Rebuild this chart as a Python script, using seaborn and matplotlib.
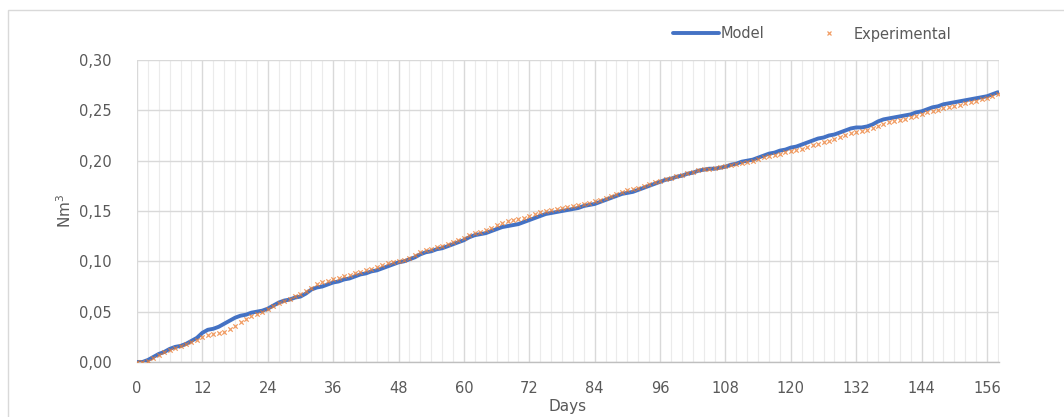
import numpy as np
import pandas as pd
import matplotlib
matplotlib.use("Agg")
import matplotlib.pyplot as plt
from matplotlib.lines import Line2D
from matplotlib.patches import Rectangle
from matplotlib.ticker import MultipleLocator, FuncFormatter
import seaborn as sns

# Values (Nm3 per day, days 0..158)
days = list(range(0, 159))

model = [
    0.000, 0.000, 0.002, 0.005, 0.008, 0.010, 0.013, 0.015, 0.016, 0.018,
    0.021, 0.024, 0.029, 0.032, 0.033, 0.035, 0.038, 0.041, 0.044, 0.046,
    0.047, 0.049, 0.050, 0.051, 0.053, 0.056, 0.059, 0.061, 0.062, 0.064,
    0.065, 0.068, 0.072, 0.074, 0.075, 0.077, 0.079, 0.080, 0.082, 0.083,
    0.085, 0.087, 0.088, 0.090, 0.091, 0.093, 0.095, 0.097, 0.099, 0.100,
    0.102, 0.104, 0.107, 0.109, 0.110, 0.112, 0.113, 0.115, 0.117, 0.119,
    0.121, 0.124, 0.126, 0.127, 0.128, 0.130, 0.132, 0.134, 0.135, 0.136,
    0.137, 0.139, 0.141, 0.143, 0.145, 0.147, 0.148, 0.149, 0.150, 0.151,
    0.152, 0.153, 0.155, 0.156, 0.157, 0.159, 0.161, 0.163, 0.165, 0.167,
    0.168, 0.169, 0.171, 0.173, 0.175, 0.177, 0.179, 0.181, 0.182, 0.184,
    0.185, 0.187, 0.188, 0.190, 0.191, 0.192, 0.192, 0.193, 0.194, 0.196,
    0.197, 0.199, 0.200, 0.201, 0.203, 0.205, 0.207, 0.208, 0.210, 0.211,
    0.213, 0.214, 0.216, 0.218, 0.220, 0.222, 0.223, 0.225, 0.226, 0.228,
    0.230, 0.232, 0.233, 0.233, 0.234, 0.236, 0.239, 0.241, 0.242, 0.243,
    0.244, 0.245, 0.246, 0.248, 0.249, 0.251, 0.253, 0.254, 0.256, 0.257,
    0.258, 0.259, 0.260, 0.261, 0.262, 0.263, 0.264, 0.266, 0.268,
]

experimental = [
    0.000, 0.000, 0.001, 0.004, 0.007, 0.010, 0.012, 0.014, 0.016, 0.018,
    0.020, 0.022, 0.025, 0.027, 0.028, 0.029, 0.030, 0.033, 0.036, 0.040,
    0.043, 0.046, 0.048, 0.050, 0.053, 0.056, 0.059, 0.061, 0.063, 0.066,
    0.068, 0.071, 0.074, 0.077, 0.079, 0.080, 0.082, 0.083, 0.085, 0.086,
    0.088, 0.089, 0.091, 0.092, 0.094, 0.096, 0.098, 0.099, 0.100, 0.101,
    0.103, 0.106, 0.109, 0.111, 0.112, 0.114, 0.115, 0.117, 0.119, 0.121,
    0.123, 0.126, 0.128, 0.129, 0.131, 0.133, 0.136, 0.138, 0.140, 0.141,
    0.142, 0.143, 0.145, 0.147, 0.149, 0.150, 0.151, 0.152, 0.153, 0.154,
    0.155, 0.156, 0.157, 0.158, 0.160, 0.161, 0.163, 0.165, 0.167, 0.169,
    0.171, 0.172, 0.173, 0.175, 0.177, 0.179, 0.180, 0.182, 0.183, 0.185,
    0.186, 0.188, 0.189, 0.191, 0.192, 0.192, 0.193, 0.194, 0.195, 0.196,
    0.197, 0.198, 0.199, 0.200, 0.202, 0.204, 0.205, 0.206, 0.207, 0.209,
    0.210, 0.211, 0.212, 0.214, 0.216, 0.217, 0.219, 0.220, 0.222, 0.224,
    0.225, 0.227, 0.228, 0.229, 0.230, 0.232, 0.234, 0.236, 0.238, 0.239,
    0.240, 0.241, 0.243, 0.244, 0.246, 0.248, 0.249, 0.250, 0.252, 0.253,
    0.254, 0.255, 0.257, 0.258, 0.259, 0.261, 0.262, 0.264, 0.266,
]

x_ticks = list(range(0, 157, 12))
y_ticks = [0.00, 0.05, 0.10, 0.15, 0.20, 0.25, 0.30]

BLUE = "#4472C4"
ORANGE = "#ED7D31"
TEXT = "#595959"

df = pd.DataFrame({"Days": days, "Model": model, "Experimental": experimental})

sns.set_style("white")
plt.rcParams["font.family"] = ["DejaVu Sans"]

fig = plt.figure(figsize=(10.64, 4.17), dpi=100)
ax = fig.add_axes([137 / 1064, 1 - 362 / 417, (999 - 137) / 1064, (362 - 60) / 417])

# outer chart frame, like the spreadsheet chart area
fig.patches.append(Rectangle((8 / 1064, -0.05), 1.1, 1 - 10 / 417 + 0.05,
                             transform=fig.transFigure, fill=False,
                             edgecolor="#d9d9d9", linewidth=1.0))

sns.lineplot(data=df, x="Days", y="Model", ax=ax, color=BLUE, linewidth=2.8, zorder=3)
sns.scatterplot(data=df, x="Days", y="Experimental", ax=ax, color=ORANGE, marker="x",
                s=10, linewidth=0.9, alpha=0.75, zorder=4)

ax.set_xlim(0, 158.2)
ax.set_ylim(0, 0.30)
ax.set_xticks(x_ticks)
ax.set_yticks(y_ticks)
ax.xaxis.set_minor_locator(MultipleLocator(2))
ax.yaxis.set_major_formatter(FuncFormatter(lambda v, p: f"{v:.2f}".replace(".", ",")))

ax.grid(which="major", axis="both", color="#d9d9d9", linewidth=1.0)
ax.grid(which="minor", axis="x", color="#ebebeb", linewidth=0.8)
ax.set_axisbelow(True)
for side in ["top", "right", "left"]:
    ax.spines[side].set_visible(False)
ax.spines["bottom"].set_color("#bfbfbf")
ax.spines["bottom"].set_linewidth(1.0)

ax.tick_params(axis="both", which="both", length=0, labelsize=10.5, colors=TEXT)
ax.tick_params(axis="x", pad=14)
ax.tick_params(axis="y", pad=18)

ax.set_xlabel("Days", fontsize=11, color=TEXT, labelpad=2)
ax.set_ylabel("Nm$^3$", fontsize=11, color=TEXT, labelpad=4)

handles = [
    Line2D([], [], color=BLUE, linewidth=2.8),
    Line2D([], [], color=ORANGE, marker="x", linestyle="none", markersize=3.5,
           markeredgewidth=0.9, alpha=0.75),
]
leg = fig.legend(handles, ["Model", "Experimental"], loc="center",
                 bbox_to_anchor=(812 / 1064, 1 - 34 / 417), ncol=2, frameon=False,
                 fontsize=10.5, handlelength=3.2, handletextpad=0.1, columnspacing=2.8,
                 borderaxespad=0)
for t in leg.get_texts():
    t.set_color(TEXT)

fig.savefig("out.png", dpi=100, facecolor="white")
